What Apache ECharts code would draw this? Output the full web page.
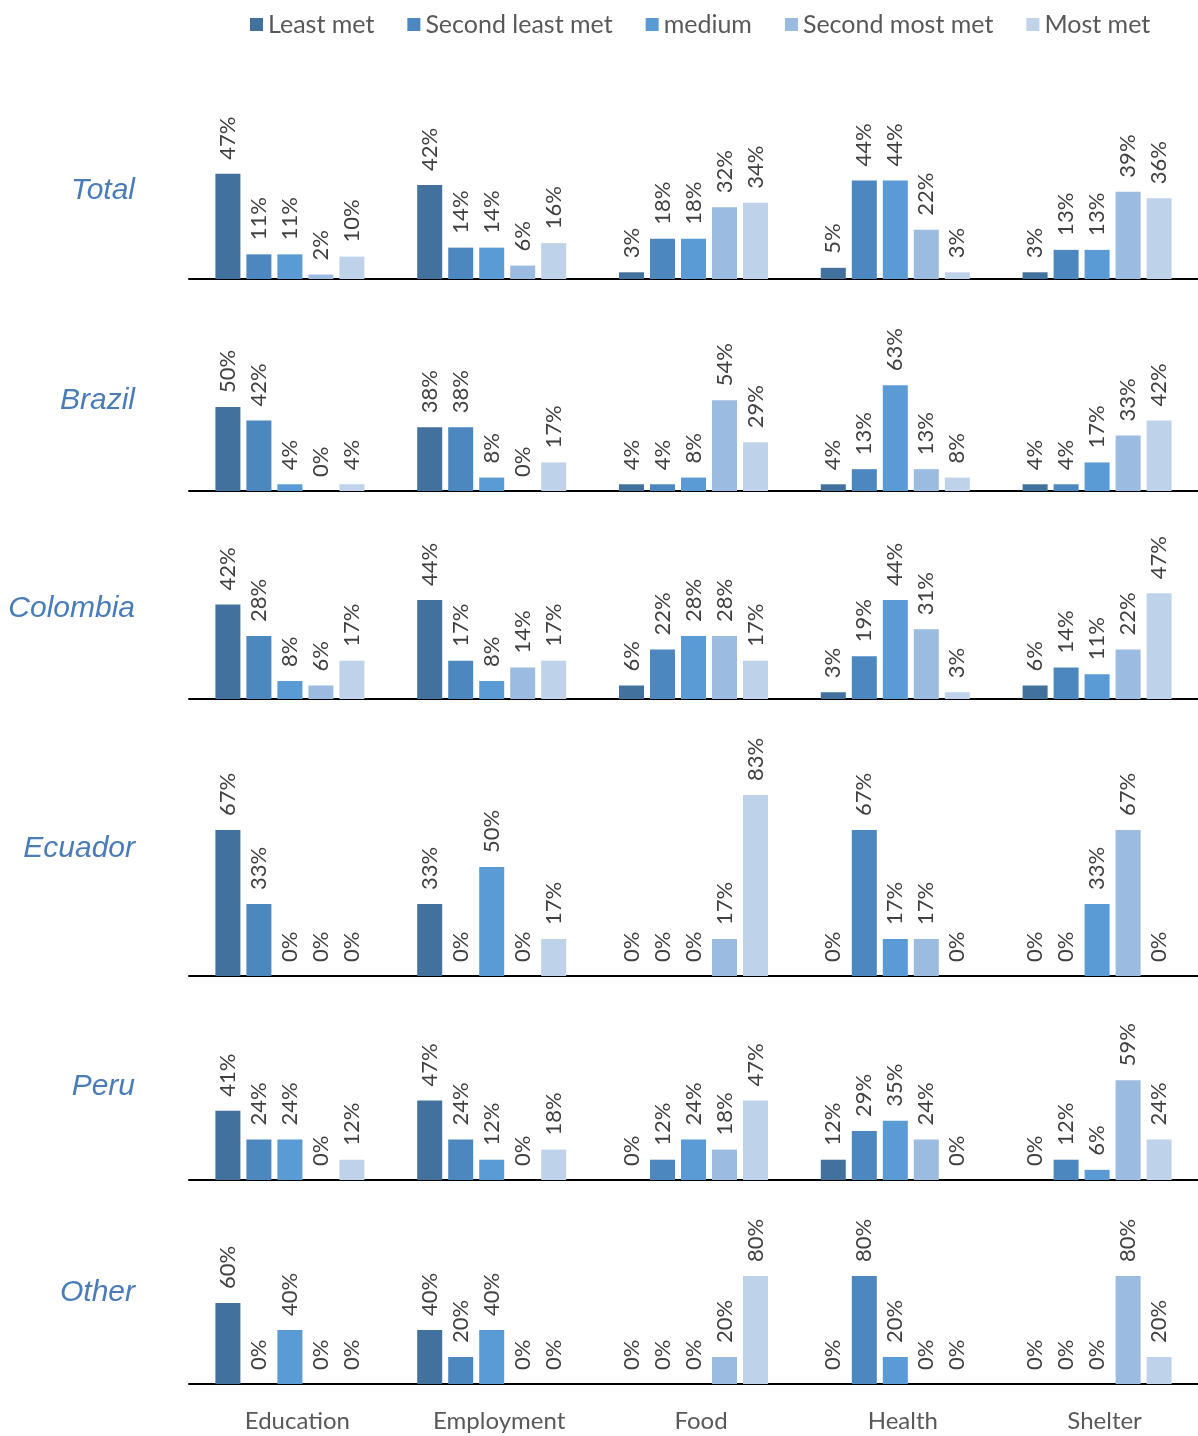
<!DOCTYPE html>
<html>
<head>
<meta charset="utf-8">
<script src="https://cdn.jsdelivr.net/npm/echarts@6/dist/echarts.min.js"></script>
<style>
  html, body { margin: 0; padding: 0; background: #ffffff; }
  #chart { width: 1198px; height: 1436px; }
</style>
</head>
<body>
<div id="chart"></div>
<script>
// Needs, in axis order
const categories = ['Education', 'Employment', 'Food', 'Health', 'Shelter'];
// Levels of need met, one bar each per need
const levels = ['Least met', 'Second least met', 'medium', 'Second most met', 'Most met'];
const panels = ['Total', 'Brazil', 'Colombia', 'Ecuador', 'Peru', 'Other'];

// Percent of respondents per level (rows) and need (columns)
const total = [
  [47, 42, 3, 5, 3],
  [11, 14, 18, 44, 13],
  [11, 14, 18, 44, 13],
  [2, 6, 32, 22, 39],
  [10, 16, 34, 3, 36]
];
const brazil = [
  [50, 38, 4, 4, 4],
  [42, 38, 4, 13, 4],
  [4, 8, 8, 63, 17],
  [0, 0, 54, 13, 33],
  [4, 17, 29, 8, 42]
];
const colombia = [
  [42, 44, 6, 3, 6],
  [28, 17, 22, 19, 14],
  [8, 8, 28, 44, 11],
  [6, 14, 28, 31, 22],
  [17, 17, 17, 3, 47]
];
const ecuador = [
  [67, 33, 0, 0, 0],
  [33, 0, 0, 67, 0],
  [0, 50, 0, 17, 33],
  [0, 0, 17, 17, 67],
  [0, 17, 83, 0, 0]
];
const peru = [
  [41, 47, 0, 12, 0],
  [24, 24, 12, 29, 12],
  [24, 12, 24, 35, 6],
  [0, 0, 18, 24, 59],
  [12, 18, 47, 0, 24]
];
const other = [
  [60, 40, 0, 0, 0],
  [0, 20, 0, 80, 0],
  [40, 40, 0, 20, 0],
  [0, 0, 20, 0, 80],
  [0, 0, 80, 0, 20]
];
const panelData = [total, brazil, colombia, ecuador, peru, other];

// Layout of each panel: axis baseline, value-axis max and pixels per percent
const layout = [
  { base: 279, max: 50, k: 2.24, labelY: 191 },
  { base: 491, max: 70, k: 1.68, labelY: 401 },
  { base: 699, max: 50, k: 2.25, labelY: 609 },
  { base: 976, max: 90, k: 2.18, labelY: 849 },
  { base: 1180, max: 70, k: 1.69, labelY: 1087 },
  { base: 1384, max: 90, k: 1.35, labelY: 1293 }
];
const colors = ['#41719c', '#4d87c0', '#5b9bd5', '#9bbbe0', '#bed2ea'];
const H = 1436;
const FONT = 'Lato, "Open Sans", sans-serif';

const grids = [], xAxes = [], yAxes = [], series = [], graphics = [];
layout.forEach((L, p) => {
  const h = L.max * L.k;
  grids.push({ left: 189, right: -1, top: L.base - h, bottom: H - L.base });
  const last = p === layout.length - 1;
  xAxes.push({
    type: 'category', gridIndex: p, data: categories,
    axisLine: { lineStyle: { color: '#000000', width: 2 } },
    axisTick: { show: false },
    axisLabel: {
      show: last, color: '#595959', fontFamily: FONT, fontSize: 24, margin: 25,
      padding: [0, 0, 0, 15]
    }
  });
  yAxes.push({
    type: 'value', gridIndex: p, min: 0, max: L.max, show: false,
    splitLine: { show: false }
  });
  levels.forEach((name, s) => {
    series.push({
      type: 'bar', name, xAxisIndex: p, yAxisIndex: p,
      data: panelData[p][s],
      barWidth: 25, barGap: '24%',
      itemStyle: { color: colors[s] },
      label: {
        show: true, position: 'top', rotate: 90, distance: 14,
        align: 'left', verticalAlign: 'middle',
        formatter: '{c}%', color: '#404040', fontFamily: FONT, fontSize: 22
      },
      emphasis: { disabled: true }
    });
  });
  graphics.push({
    type: 'text', x: 135, y: L.labelY,
    style: {
      text: panels[p], fill: '#4a7cb8', textAlign: 'right', textVerticalAlign: 'middle',
      font: 'italic 30px "Liberation Sans", Arial, sans-serif'
    }
  });
});

const chart = echarts.init(document.getElementById('chart'), null, { renderer: 'canvas' });
chart.setOption({
  animation: false,
  color: colors,
  legend: {
    data: levels, left: 245, top: 7, icon: 'rect', itemWidth: 13, itemHeight: 13,
    itemGap: 33, textStyle: { color: '#595959', fontFamily: FONT, fontSize: 25 }
  },
  grid: grids,
  xAxis: xAxes,
  yAxis: yAxes,
  series,
  graphic: graphics
});
</script>
</body>
</html>
